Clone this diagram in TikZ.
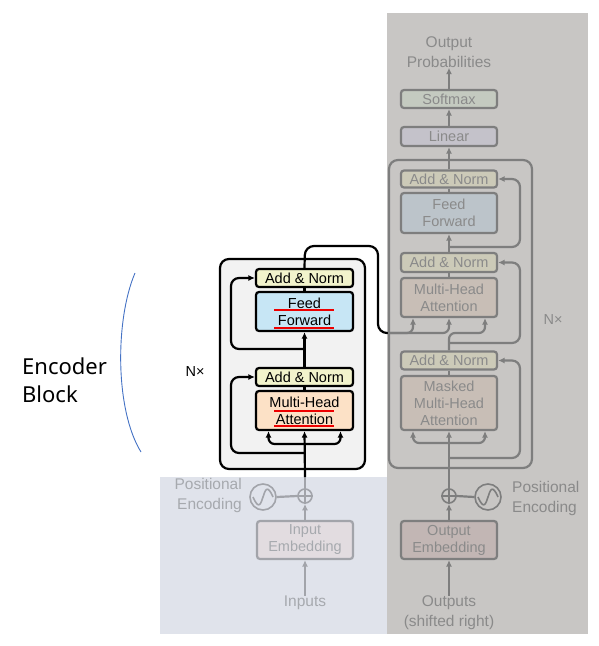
\documentclass[tikz,border=0pt]{standalone}
\usepackage{fontspec}
\setmainfont{Liberation Sans}
\newfontfamily\encfont{Noto Sans}
\usetikzlibrary{arrows.meta}
\definecolor{decbg}{HTML}{C8C6C4}
\definecolor{encbg}{HTML}{E0E3EB}
\definecolor{decline}{HTML}{7E7E7E}
\definecolor{dectext}{HTML}{8A8A8A}
\definecolor{dAN}{HTML}{CCCAB8}
\definecolor{dFFc}{HTML}{BCC4CA}
\definecolor{dMH}{HTML}{C8BEB6}
\definecolor{dLn}{HTML}{C4C2CA}
\definecolor{dSm}{HTML}{C4CAC0}
\definecolor{dEm}{HTML}{C2B6B4}
\definecolor{encline}{HTML}{A2A4AA}
\definecolor{enctext}{HTML}{A6A9AE}
\definecolor{eEm}{HTML}{E2DCE0}
\definecolor{eBlk}{HTML}{F2F2F2}
\definecolor{eAN}{HTML}{F2F3CC}
\definecolor{eFFc}{HTML}{C7E6F5}
\definecolor{eMH}{HTML}{FCE1C6}
\definecolor{ulred}{HTML}{EE0000}
\definecolor{curveblue}{HTML}{4472C4}
\begin{document}
\begin{tikzpicture}[x=1pt,y=-1pt,
  arr/.style={-{Latex[length=6.5pt,width=6pt]}},
  boxtxt/.style={font=\fontsize{14.5}{17}\selectfont},
  ebox/.style={draw=black, line width=2.2pt, rounded corners=3pt, minimum width=97pt, inner sep=0pt, align=center, boxtxt},
  dbox/.style={draw=decline, line width=2.2pt, rounded corners=3pt, minimum width=96pt, inner sep=0pt, align=center, text=dectext, boxtxt},
  elin/.style={line width=2.2pt, black},
  dlin/.style={line width=2.2pt, decline},
  glin/.style={line width=2.2pt, encline},
  lbl/.style={font=\fontsize{15.5}{20}\selectfont, align=center, inner sep=0pt},
  ul/.style={ulred, line width=2.4pt}
]
\useasboundingbox (0,0) rectangle (598,646);
% backgrounds
\fill[decbg] (387,13) rectangle (588,634);
\fill[encbg] (160,477) rectangle (387,634);

% ---------------- Encoder ----------------
\node[draw=black, line width=2.2pt, fill=eBlk, rounded corners=9pt, minimum width=145pt, minimum height=210pt] (eblk) at (292.5,364) {};
\node[ebox, fill=eAN, minimum height=18pt] (eAN2) at (304.5,278) {Add \& Norm};
\node[ebox, fill=eFFc, minimum height=39pt] (eFF) at (304.5,311.5) {Feed\\Forward};
\node[ebox, fill=eAN, minimum height=18pt] (eAN1) at (304.5,377) {Add \& Norm};
\node[ebox, fill=eMH, minimum height=39pt] (eMHA) at (304.5,410.5) {Multi-Head\\Attention};
\draw[ul] (274,310) -- (334,310);
\draw[ul] (274,328) -- (334,328);
\draw[ul] (274,411) -- (334,411);
\draw[ul] (274,426) -- (334,426);
\node[font=\fontsize{14.5}{15}\selectfont, inner sep=0pt] (eNx) at (195,372) {N×};

% encoder input part (faded)
\node[draw=encline, line width=2.2pt, fill=eEm, rounded corners=3pt, minimum width=96pt, minimum height=38pt, inner sep=0pt, align=center, text=enctext, boxtxt] (eEmb) at (305,540) {Input\\Embedding};
\node[draw=encline, line width=1.6pt, circle, minimum size=14pt, inner sep=0pt] (eplus) at (305,496) {};
\draw[encline, line width=1.3pt] (eplus.north) -- (eplus.south) (eplus.west) -- (eplus.east);
\node[draw=encline, line width=1.6pt, circle, minimum size=26pt, inner sep=0pt] (esine) at (263,497) {};
\draw[encline, line width=1.6pt] ([xshift=-10pt]esine.center) .. controls ([xshift=-4pt,yshift=-14pt]esine.center) and ([xshift=-2pt,yshift=-6pt]esine.center) .. (esine.center) .. controls ([xshift=2pt,yshift=6pt]esine.center) and ([xshift=4pt,yshift=14pt]esine.center) .. ([xshift=10pt]esine.center);
\draw[glin] (esine.east) -- (eplus.west);
\node[lbl, text=enctext, align=right, anchor=east] (ePE) at (242,495) {Positional\\Encoding};
\node[lbl, text=enctext] (eIn) at (305,603) {Inputs};
\draw[glin, arr] (eIn.north) -- (eEmb.south);
\draw[glin, arr] (eEmb.north) -- (eplus.south);
\coordinate (eBound) at (305,477);
\draw[glin] (eplus.north) -- (eBound);
\draw[elin, arr] (eBound) -- (eMHA.south);
\draw[elin, arr, rounded corners=6pt] (305,444) -| ([xshift=-36pt]eMHA.south);
\draw[elin, arr, rounded corners=6pt] (305,444) -| ([xshift=36pt]eMHA.south);
\draw[elin, arr, rounded corners=8pt] (305,453) -| (231,377) -- (eAN1.west);
\draw[elin] (eMHA.north) -- (eAN1.south);
\draw[elin, arr] (eAN1.north) -- (eFF.south);
\draw[elin, arr, rounded corners=8pt] (305,349) -| (231,278) -- (eAN2.west);
\draw[elin] (eFF.north) -- (eAN2.south);
\coordinate (eOut) at (388,333);
\draw[elin, rounded corners=9pt] (eAN2.north) -- (305,246) -- (378,246) -- (378,333) -- (eOut);

% ---------------- Decoder ----------------
\node[draw=decline, line width=2.2pt, rounded corners=9pt, minimum width=143pt, minimum height=308pt] (dblk) at (460.5,314) {};
\node[dbox, fill=dSm, minimum height=18pt] (dSM) at (449,99) {Softmax};
\node[dbox, fill=dLn, minimum height=19pt] (dLin) at (449,136.5) {Linear};
\node[dbox, fill=dAN, minimum height=17pt] (dAN3) at (449,179) {Add \& Norm};
\node[dbox, fill=dFFc, minimum height=40pt] (dFF) at (449,213) {Feed\\Forward};
\node[dbox, fill=dAN, minimum height=19pt] (dAN2) at (449,262.5) {Add \& Norm};
\node[dbox, fill=dMH, minimum height=39pt] (dMHA) at (449,297.5) {Multi-Head\\Attention};
\node[dbox, fill=dAN, minimum height=18pt] (dAN1) at (449,360.5) {Add \& Norm};
\node[dbox, fill=dMH, minimum height=54pt] (dMMHA) at (449,403) {Masked\\Multi-Head\\Attention};
\node[dbox, fill=dEm, minimum height=38pt] (dEmb) at (449,540) {Output\\Embedding};
\node[lbl, text=dectext] (dProb) at (449,52) {Output\\Probabilities};
\node[font=\fontsize{14.5}{15}\selectfont, text=dectext, inner sep=0pt] (dNx) at (553,320) {N×};
\node[draw=decline, line width=1.6pt, circle, minimum size=14pt, inner sep=0pt] (dplus) at (449,496) {};
\draw[decline, line width=1.3pt] (dplus.north) -- (dplus.south) (dplus.west) -- (dplus.east);
\node[draw=decline, line width=1.6pt, circle, minimum size=26pt, inner sep=0pt] (dsine) at (488,497) {};
\draw[decline, line width=1.6pt] ([xshift=-10pt]dsine.center) .. controls ([xshift=-4pt,yshift=-14pt]dsine.center) and ([xshift=-2pt,yshift=-6pt]dsine.center) .. (dsine.center) .. controls ([xshift=2pt,yshift=6pt]dsine.center) and ([xshift=4pt,yshift=14pt]dsine.center) .. ([xshift=10pt]dsine.center);
\draw[dlin] (dplus.east) -- (dsine.west);
\node[lbl, text=dectext, align=left, anchor=west] (dPE) at (512,498) {Positional\\Encoding};
\node[lbl, text=dectext] (dOut) at (449,613) {Outputs\\(shifted right)};
\draw[dlin, arr] (dOut.north) -- (dEmb.south);
\draw[dlin, arr] (dEmb.north) -- (dplus.south);
\draw[dlin, arr] (dplus.north) -- (dMMHA.south);
\draw[dlin, arr, rounded corners=6pt] (449,443) -| ([xshift=-36pt]dMMHA.south);
\draw[dlin, arr, rounded corners=6pt] (449,443) -| ([xshift=36pt]dMMHA.south);
\draw[dlin, arr, rounded corners=8pt] (449,458) -| (520,360.5) -- (dAN1.east);
\draw[dlin] (dMMHA.north) -- (dAN1.south);
\draw[dlin, arr, rounded corners=6pt] (dAN1.north) -- (449,333) -- (485,333) -- ([xshift=36pt]dMHA.south);
\draw[dlin, arr, rounded corners=6pt] (eOut) -- (413,333) -- ([xshift=-36pt]dMHA.south);
\draw[dlin, arr, rounded corners=6pt] (eOut) -- (449,333) -- (dMHA.south);
\draw[dlin, arr, rounded corners=8pt] (449,343) -| (520,262.5) -- (dAN2.east);
\draw[dlin] (dMHA.north) -- (dAN2.south);
\draw[dlin, arr] (dAN2.north) -- (dFF.south);
\draw[dlin, arr, rounded corners=8pt] (449,247) -| (520,179) -- (dAN3.east);
\draw[dlin] (dFF.north) -- (dAN3.south);
\draw[dlin, arr] (dAN3.north) -- (dLin.south);
\draw[dlin, arr] (dLin.north) -- (dSM.south);
\draw[dlin, arr] (dSM.north) -- (dProb.south);

% ---------------- Annotation ----------------
\node[font=\encfont\fontsize{22}{28}\selectfont, align=left, anchor=west, inner sep=0pt] (encLbl) at (22,380) {Encoder\\Block};
\draw[curveblue, line width=0.9pt] (135,273) .. controls (115,320) and (115,410) .. (141,452);
\end{tikzpicture}
\end{document}
